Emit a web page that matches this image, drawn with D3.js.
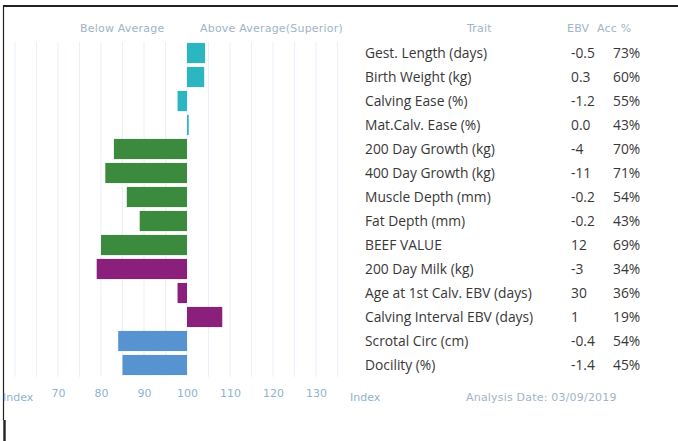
<!DOCTYPE html>
<html><head><meta charset="utf-8">
<script src="https://cdn.jsdelivr.net/npm/d3@7"></script>
<style>body{margin:0;background:#fff}svg{display:block}</style>
</head><body>
<script>
const traits = ["Gest. Length (days)","Birth Weight (kg)","Calving Ease (%)","Mat.Calv. Ease (%)","200 Day Growth (kg)","400 Day Growth (kg)","Muscle Depth (mm)","Fat Depth (mm)","BEEF VALUE","200 Day Milk (kg)","Age at 1st Calv. EBV (days)","Calving Interval EBV (days)","Scrotal Circ (cm)","Docility (%)"];
const ebv = ["-0.5","0.3","-1.2","0.0","-4","-11","-0.2","-0.2","12","-3","30","1","-0.4","-1.4"];
const acc = ["73%","60%","55%","43%","70%","71%","54%","43%","69%","34%","36%","19%","54%","45%"];
const indexValues = [104.2,104,97.8,100.4,83,81,86,89,80,79,97.8,108.2,84,85];
const groups = ["calving","calving","calving","calving","growth","growth","growth","growth","growth","maternal","maternal","maternal","fertility","fertility"];
const tickValues = [70,80,90,100,110,120,130];
const gridValues = [60,65,70,75,80,85,90,95,100,105,110,115,120,125,130,135];

const colors = {calving:"#2cb6c1",growth:"#3c8a3d",maternal:"#8a1f7c",fertility:"#5693d0"};

const W=678,H=441;
const svg=d3.select("body").append("svg").attr("width",W).attr("height",H);

const x=d3.scaleLinear().domain([70,130]).range([58,316]);
const y=d3.scaleBand().domain(d3.range(traits.length)).range([41,377]).paddingInner(0.16).paddingOuter(0.08);

// border
svg.append("line").attr("x1",3).attr("x2",W).attr("y1",6).attr("y2",6).attr("stroke","#222").attr("stroke-width",2.2);
svg.append("line").attr("x1",3.5).attr("x2",3.5).attr("y1",5).attr("y2",420).attr("stroke","#222").attr("stroke-width",1.2);
svg.append("line").attr("x1",4.5).attr("x2",4.5).attr("y1",420).attr("y2",H).attr("stroke","#222").attr("stroke-width",2.4);

// grid
svg.append("g").selectAll("line").data(gridValues).join("line")
  .attr("x1",d=>x(d)).attr("x2",d=>x(d)).attr("y1",42).attr("y2",377)
  .attr("stroke","#e6f1fb").attr("stroke-width",1);

// headers
const hdr={fill:"#9fb4c6","font-family":"DejaVu Sans","font-size":"11px","letter-spacing":"0.2px"};
function txt(t,xx,yy,st,anchor){const e=svg.append("text").attr("x",xx).attr("y",yy).text(t).attr("text-anchor",anchor||"start");for(const k in st)e.attr(k,st[k]);return e;}
txt("Below Average",80,32,hdr);
txt("Above Average(Superior)",200,32,hdr);
txt("Trait",467,32,hdr);
txt("EBV",567,32,hdr);
txt("Acc %",597,32,hdr);

// bars
svg.append("g").selectAll("rect").data(indexValues).join("rect")
  .attr("x",d=>Math.min(x(d),x(100)))
  .attr("width",d=>Math.abs(x(d)-x(100)))
  .attr("y",(d,i)=>y(i))
  .attr("height",y.bandwidth())
  .attr("fill",(d,i)=>colors[groups[i]]);

// axis labels
const ax={fill:"#8fb2cf","font-family":"DejaVu Sans","font-size":"11px"};
const axis=d3.axisBottom(x).tickValues(tickValues).tickSize(0).tickPadding(0);
const ag=svg.append("g").attr("transform","translate(0,389)").call(axis);
ag.select(".domain").remove();
ag.selectAll("text").attr("fill",ax.fill).attr("font-family",ax["font-family"]).attr("font-size",ax["font-size"]);
txt("Index",3,401,ax);
txt("Index",350,401,ax);
txt("Analysis Date: 03/09/2019",466,401,hdr);

// table
const tf={fill:"#383838","font-family":"Open Sans","font-size":"13.8px"};
const rowY=i=>y(i)+y.bandwidth()/2+4.8;
traits.forEach((t,i)=>{
  txt(t,365,rowY(i),tf);
  txt(ebv[i],571,rowY(i),tf);
  txt(acc[i],613,rowY(i),tf);
});
</script>
</body></html>
